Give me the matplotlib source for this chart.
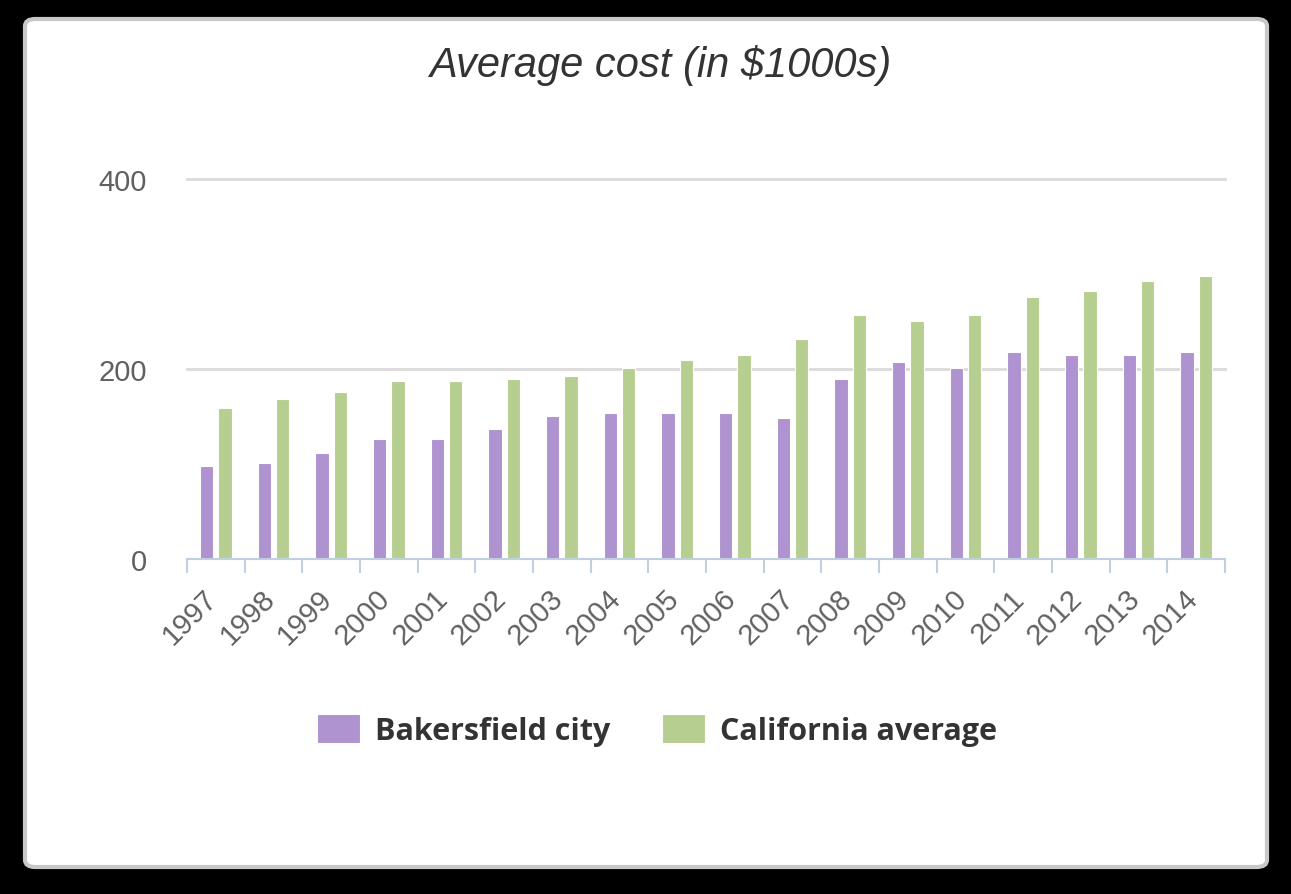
import matplotlib
matplotlib.use("Agg")
import matplotlib.pyplot as plt
import matplotlib.transforms as mtransforms
from matplotlib.patches import FancyBboxPatch
import numpy as np

years = ["1997", "1998", "1999", "2000", "2001", "2002", "2003", "2004", "2005",
         "2006", "2007", "2008", "2009", "2010", "2011", "2012", "2013", "2014"]
bakersfield = [98, 101, 112, 126, 126, 137, 151, 154, 154, 154, 148, 190, 207, 201, 218, 215, 215, 218]
california = [159, 168, 176, 187, 187, 190, 193, 201, 210, 215, 232, 257, 251, 257, 276, 282, 293, 298]
series_names = ["Bakersfield city", "California average"]
yticks = [0, 200, 400]

purple = "#AF92D0"
green = "#B6CF90"

fig = plt.figure(figsize=(12.91, 8.95), dpi=100)
fig.patch.set_facecolor("black")

box = FancyBboxPatch((25 / 1291, 1 - 868 / 895), (1267 - 25) / 1291, (868 - 20) / 895,
                     boxstyle="round,pad=0,rounding_size=0.008",
                     transform=fig.transFigure, facecolor="white",
                     edgecolor="#C8C8C8", linewidth=3, zorder=-10)
fig.patches.append(box)

ax = fig.add_axes([187 / 1291, 1 - 560 / 895, (1225 - 187) / 1291, (560 - 180) / 895])
ax.set_zorder(5)
ax.set_facecolor("none")

x = np.arange(len(years))
w = 0.235
off = 0.158
ax.bar(x - off, bakersfield, width=w, color=purple, edgecolor="white", linewidth=0.8,
       label=series_names[0], zorder=3)
ax.bar(x + off, california, width=w, color=green, edgecolor="white", linewidth=0.8,
       label=series_names[1], zorder=3)

ax.set_xlim(-0.5, len(years) - 0.5)
ax.set_ylim(0, 400)

for s in ["top", "right", "left"]:
    ax.spines[s].set_visible(False)
ax.spines["bottom"].set_color("#C0D0E0")
ax.spines["bottom"].set_linewidth(1.5)
ax.spines["bottom"].set_zorder(4)

ax.set_yticks(yticks)
ax.set_yticklabels([str(v) for v in yticks], fontsize=21, color="#606060",
                   fontfamily="Liberation Sans")
ax.tick_params(axis="y", length=0, pad=29)
for yv in yticks[1:]:
    ax.axhline(yv, color="#DADADA", linewidth=2, zorder=1, clip_on=False)

ax.set_xticks(x)
ax.set_xticklabels(years, rotation=45, ha="right", va="center", rotation_mode="anchor",
                   fontsize=21, color="#606060", fontfamily="Liberation Sans")
ax.tick_params(axis="x", which="major", length=0, pad=25)
shift = mtransforms.ScaledTranslation(-3 / 100, 0, fig.dpi_scale_trans)
for lbl in ax.get_xticklabels():
    lbl.set_transform(lbl.get_transform() + shift)
ax.set_xticks(np.arange(-0.5, len(years), 1.0), minor=True)
ax.tick_params(axis="x", which="minor", length=10, width=1.5, color="#C0D0E0")

fig.text(660 / 1291, 1 - 66 / 895, "Average cost (in $1000s)", ha="center", va="center",
         fontsize=30, style="italic", color="#333333", fontfamily="Liberation Sans")

leg = fig.legend(loc="center", bbox_to_anchor=(657 / 1291, 1 - 731 / 895), ncol=2, frameon=False,
                 prop={"family": "Open Sans", "weight": "bold", "size": 22},
                 handlelength=1.41, handleheight=1.05, columnspacing=1.67, handletextpad=0.49)
for t in leg.get_texts():
    t.set_color("#333333")

fig.savefig("out.png", dpi=100, facecolor=fig.get_facecolor())
